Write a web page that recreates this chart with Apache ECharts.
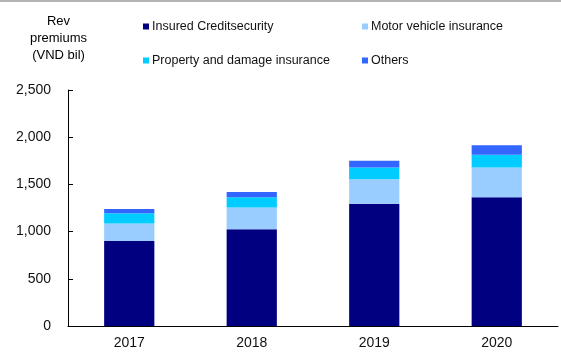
<!DOCTYPE html>
<html>
<head>
<meta charset="utf-8">
<script src="https://cdn.jsdelivr.net/npm/echarts@6/dist/echarts.min.js"></script>
<style>html,body{margin:0;padding:0;background:#fff;}#c{width:561px;height:355px;}</style>
</head>
<body>
<div id="c"></div>
<script>
var categories = ['2017', '2018', '2019', '2020'];
var seriesNames = ['Insured Creditsecurity', 'Motor vehicle insurance', 'Property and damage insurance', 'Others'];
var insuredCredit = [900, 1025, 1295, 1365];
var motorVehicle = [185, 230, 260, 315];
var propertyDamage = [110, 110, 125, 135];
var others = [45, 55, 70, 100];
var yTicks = [0, 500, 1000, 1500, 2000, 2500];
var colors = ['#000080', '#99ccff', '#00ccff', '#3366ff'];
var values = [insuredCredit, motorVehicle, propertyDamage, others];

var font = 'Arial, "Liberation Sans", sans-serif';
var legendPos = [[143, 20], [362, 20], [143, 54], [362, 54]];
var legends = seriesNames.map(function (n, i) {
  return {
    data: [n], left: legendPos[i][0], top: legendPos[i][1], padding: 0,
    icon: 'rect', itemWidth: 6, itemHeight: 6,
    textStyle: { fontFamily: font, fontSize: 12.5, color: '#111', padding: [0, 0, 0, -2] },
    selectedMode: false
  };
});

var chart = echarts.init(document.getElementById('c'));
chart.setOption({
  animation: false,
  backgroundColor: '#fff',
  legend: legends,
  graphic: [
    { type: 'rect', shape: { x: 0, y: 0, width: 561, height: 2 }, style: { fill: '#b4b4b4' } },
    { type: 'text', left: 30, top: 13, style: { text: 'Rev\npremiums\n(VND bil)', x: 58, textAlign: 'center', font: '13px ' + font, lineHeight: 17, fill: '#000' } }
  ],
  grid: { left: 68, right: 3, top: 90, bottom: 29 },
  xAxis: {
    type: 'category', data: categories,
    axisLine: { lineStyle: { color: '#000', width: 1 } },
    axisTick: { inside: true, length: 5, lineStyle: { color: '#000' } },
    axisLabel: { fontFamily: font, fontSize: 14, color: '#111', margin: 10 }
  },
  yAxis: {
    type: 'value', min: yTicks[0], max: yTicks[yTicks.length - 1], interval: 500,
    splitLine: { show: false },
    axisLine: { show: true, lineStyle: { color: '#000', width: 1 } },
    axisTick: { show: true, inside: true, length: 5, lineStyle: { color: '#000' } },
    axisLabel: {
      fontFamily: font, fontSize: 14, color: '#111', margin: 17,
      formatter: function (v) { return v.toLocaleString('en-US'); }
    }
  },
  series: seriesNames.map(function (n, i) {
    return {
      name: n, type: 'bar', stack: 'total', data: values[i],
      barCategoryGap: '59%',
      itemStyle: { color: colors[i] }
    };
  })
});
</script>
</body>
</html>
